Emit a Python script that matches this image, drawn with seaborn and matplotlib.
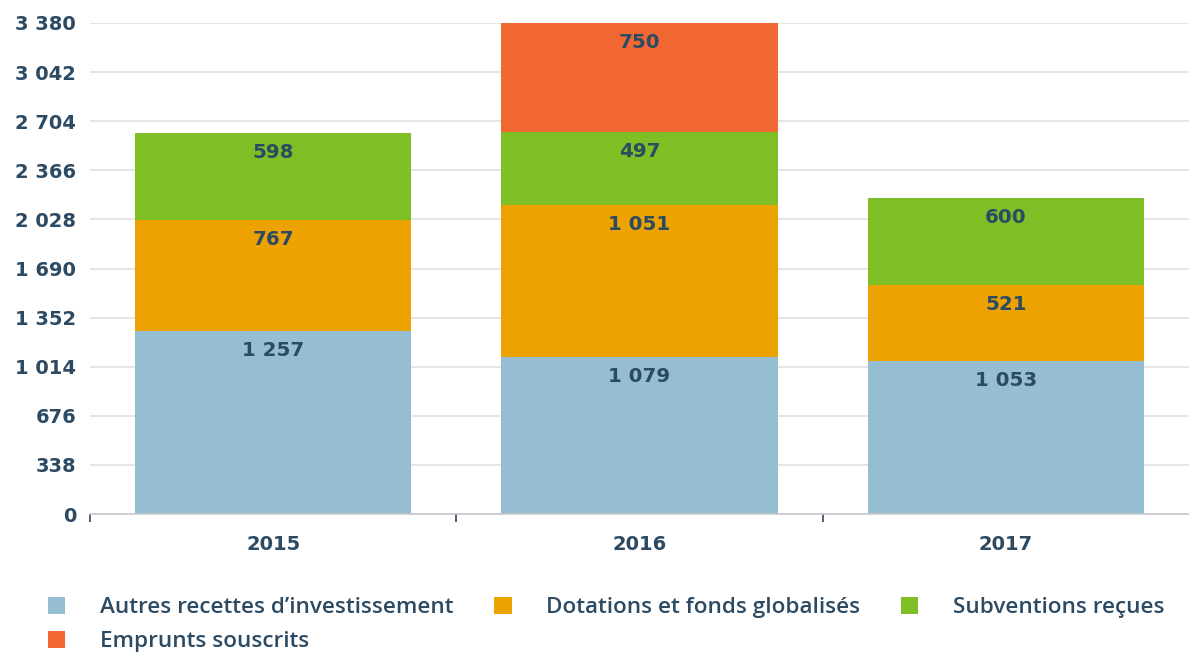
import matplotlib
matplotlib.use("Agg")
import matplotlib.pyplot as plt
import numpy as np
import pandas as pd
import seaborn as sns
from matplotlib.patches import Patch
from matplotlib.ticker import FuncFormatter

years = ["2015", "2016", "2017"]
series = ["Autres recettes d’investissement", "Dotations et fonds globalisés",
          "Subventions reçues", "Emprunts souscrits"]
autres = [1257, 1079, 1053]
dotations = [767, 1051, 521]
subventions = [598, 497, 600]
emprunts = [0, 750, 0]
yticks = [0, 338, 676, 1014, 1352, 1690, 2028, 2366, 2704, 3042, 3380]

colors = ["#96bed3", "#eca200", "#7fbf26", "#f26832"]
txt = "#2d4a63"

sns.set_theme(style="white")
plt.rcParams["font.family"] = ["DejaVu Sans"]

vals = [autres, dotations, subventions, emprunts]
df = pd.DataFrame({"year": years})
cum = np.zeros(3)
for name, v in zip(series, vals):
    cum = cum + np.array(v)
    df[name] = cum

fig = plt.figure(figsize=(11.89, 6.55), dpi=100)
ax = fig.add_axes([90 / 1189, 1 - 514 / 655, 1 - 90 / 1189, (514 - 23) / 655])

# draw cumulative layers from top to bottom
for name, c in reversed(list(zip(series, colors))):
    sns.barplot(data=df, x="year", y=name, color=c, width=0.755, saturation=1,
                ax=ax, linewidth=0)

# segment labels near the top of each segment
for name, v in zip(series, vals):
    for i, val in enumerate(v):
        if val == 0:
            continue
        top = df[name].iloc[i]
        ax.annotate(f"{val:,}".replace(",", " "), (i, top), xytext=(0, -14),
                    textcoords="offset points", ha="center", va="center",
                    fontsize=14.3, fontweight="bold", color=txt, family="DejaVu Sans")

ax.set_xlim(-0.5, 2.5)
ax.set_ylim(0, 3380)
ax.set_yticks(yticks)
ax.yaxis.set_major_formatter(FuncFormatter(lambda v, p: f"{int(v):,}".replace(",", " ")))
ax.grid(axis="y", color="#e0e0e0", linewidth=1.2)
ax.set_axisbelow(True)
for s in ["top", "right", "left"]:
    ax.spines[s].set_visible(False)
ax.spines["bottom"].set_color("#c8c8c8")
ax.spines["bottom"].set_linewidth(1.2)
ax.set_xlabel("")
ax.set_ylabel("")
ax.set_xticks([0, 1, 2])
ax.set_xticklabels(years)
ax.set_xticks([-0.5, 0.5, 1.5], minor=True)
ax.tick_params(axis="x", which="major", length=0, pad=15, labelcolor=txt)
ax.tick_params(axis="x", which="minor", bottom=True, length=6, width=1.2, color=txt)
ax.tick_params(axis="y", length=0, pad=10, labelcolor=txt)
for lab in ax.get_xticklabels() + ax.get_yticklabels():
    lab.set_fontweight("bold")
    lab.set_fontfamily("DejaVu Sans")
    lab.set_fontsize(14)

handles = [Patch(facecolor=c, edgecolor="none") for c in colors]
order = [0, 3, 1, 2]
leg = fig.legend([handles[i] for i in order], [series[i] for i in order],
                 loc="lower left", bbox_to_anchor=(0.023, -0.027), ncol=3, frameon=False,
                 handlelength=0.79, handleheight=0.79, handletextpad=1.53,
                 columnspacing=1.8, labelspacing=0.57,
                 prop={"family": "Open Sans", "weight": "semibold", "size": 16.2})
for t in leg.get_texts():
    t.set_color(txt)

fig.savefig("out.png", dpi=100)
